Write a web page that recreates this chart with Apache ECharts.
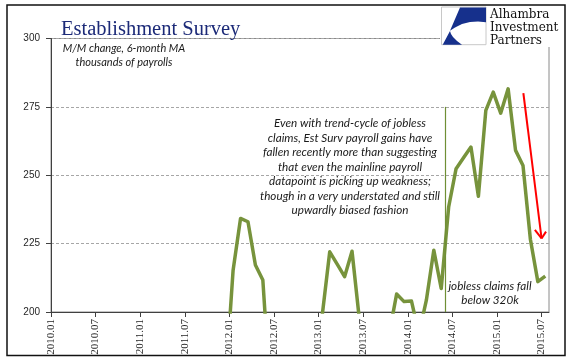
<!DOCTYPE html>
<html><head><meta charset="utf-8">
<script src="https://cdn.jsdelivr.net/npm/echarts@6/dist/echarts.min.js"></script>
<style>html,body{margin:0;padding:0;background:#fff}#c{width:577px;height:358px}</style>
</head><body><div id="c"></div>
<script>
// Monthly categories (2010.01 .. 2015.07)
const months = [
 '2010.01','2010.02','2010.03','2010.04','2010.05','2010.06','2010.07','2010.08','2010.09','2010.10','2010.11','2010.12',
 '2011.01','2011.02','2011.03','2011.04','2011.05','2011.06','2011.07','2011.08','2011.09','2011.10','2011.11','2011.12',
 '2012.01','2012.02','2012.03','2012.04','2012.05','2012.06','2012.07','2012.08','2012.09','2012.10','2012.11','2012.12',
 '2013.01','2013.02','2013.03','2013.04','2013.05','2013.06','2013.07','2013.08','2013.09','2013.10','2013.11','2013.12',
 '2014.01','2014.02','2014.03','2014.04','2014.05','2014.06','2014.07','2014.08','2014.09','2014.10','2014.11','2014.12',
 '2015.01','2015.02','2015.03','2015.04','2015.05','2015.06','2015.07'
];
// M/M change, 6-month MA, thousands (values below 200 are off-scale in the original)
const payrollMA = [
 -60, -20, 30, 80, 120, 110, 90, 60, 40, 20, 50, 90,
 110, 130, 150, 170, 160, 140, 120, 110, 130, 140, 150, 175,
 215.3, 234.2, 233.0, 217.2, 211.7, 170, 150, 140, 135, 150, 170, 185,
 199, 222.0, 217.5, 212.9, 222.2, 197, 180, 170, 175, 192,
 206.6, 203.8, 204.0, 192, 204.3, 222.6, 208.6, 238.4, 252.4, 256.4, 260.3, 242.3,
 273.7, 280.4, 272.7, 281.6, 259.1, 253.6, 226.5, 211.1, 213.1
];
const xTickLabels = ['2010.01','2010.07','2011.01','2011.07','2012.01','2012.07','2013.01','2013.07','2014.01','2014.07','2015.01','2015.07'];
const yTicks = [200, 225, 250, 275, 300];
// Annotation anchors (data units)
const eventMonth = '2014.06';          // jobless claims fall below 320k
const eventTop = 275;
const arrowFrom = [63.55, 280];
const arrowTo = [66.0, 226.9];
const arrowHeadL = [65.1, 230.0];
const arrowHeadR = [66.6, 229.4];

const tickPos = xTickLabels.map(l => months.indexOf(l));
const eventPos = months.indexOf(eventMonth);
const lineData = payrollMA.map((v, i) => [i + 0.5, v]);

const chart = echarts.init(document.getElementById('c'), null, {renderer: 'canvas'});
const red = {color: '#ff0000', width: 2, type: 'solid'};
chart.setOption({
  animation: false,
  backgroundColor: '#ffffff',
  grid: {left: 51, right: 28, top: 38.5, bottom: 46, show: true, borderColor: '#8a8a8a', borderWidth: 1},
  xAxis: {
    type: 'value', min: 0, max: 67, interval: 6,
    axisLine: {show: true, lineStyle: {color: '#404040', width: 1}},
    axisTick: {show: true, length: 5, inside: false, customValues: tickPos, lineStyle: {color: '#404040'}},
    axisLabel: {rotate: 90, margin: 7, customValues: tickPos, color: '#262626',
      fontFamily: '"Liberation Serif", serif', fontSize: 11,
      formatter: v => (months[Math.round(v)] !== undefined && tickPos.includes(Math.round(v))) ? months[Math.round(v)] : ''},
    splitLine: {show: false}
  },
  yAxis: {
    type: 'value', min: yTicks[0], max: yTicks[yTicks.length - 1], interval: 25,
    axisLine: {show: true, lineStyle: {color: '#404040', width: 1}},
    axisTick: {show: true, length: 5, lineStyle: {color: '#404040'}},
    axisLabel: {margin: 11, color: '#262626', fontFamily: '"Liberation Sans", Arial, sans-serif', fontSize: 10},
    splitLine: {show: true, lineStyle: {color: '#a6a6a6', width: 1, type: [3, 2]}}
  },
  series: [{
    type: 'line', data: lineData, symbol: 'none', clip: true, z: 3,
    lineStyle: {color: '#77933c', width: 3.5, join: 'round'},
    markLine: {
      silent: true, symbol: 'none', animation: false, label: {show: false},
      emphasis: {disabled: true},
      data: [
        [{coord: [eventPos, eventTop], lineStyle: {color: '#6f8f35', width: 1.2, type: 'solid'}}, {coord: [eventPos, yTicks[0]]}],
        [{coord: arrowFrom, lineStyle: red}, {coord: arrowTo}],
        [{coord: arrowHeadL, lineStyle: red}, {coord: arrowTo}],
        [{coord: arrowHeadR, lineStyle: red}, {coord: arrowTo}]
      ]
    }
  }],
  graphic: [
    {type: 'rect', z: 100, silent: true, shape: {x: 7, y: 5, width: 558, height: 350.5},
     style: {fill: 'none', stroke: '#111', lineWidth: 1.5}},
    {type: 'rect', z: 101, silent: true, shape: {x: 440, y: 7, width: 123, height: 40}, style: {fill: '#fff', stroke: 'none'}},
    {type: 'rect', z: 102, silent: true, shape: {x: 441.5, y: 7, width: 44.5, height: 37.7}, style: {fill: '#fff', stroke: '#c8c8c8', lineWidth: 1}},
    {type: 'polygon', z: 103, silent: true,
     shape: {points: [[460,7.5],[486,7.5],[486,22.3],[478,21.5],[470,22],[462,24],[455,27.5],[450,30.7]]},
     style: {fill: '#16308c'}},
    {type: 'polygon', z: 103, silent: true,
     shape: {points: [[450,31],[442.7,44.7],[462,44.7],[457,41],[453,37],[451,34]]},
     style: {fill: '#16308c'}},
    {type: 'text', z: 103, x: 490, y: 14.5, style: {text: 'Alhambra', font: '12px "DejaVu Serif"', fill: '#111', textVerticalAlign: 'middle'}},
    {type: 'text', z: 103, x: 490, y: 27.5, style: {text: 'Investment', font: '12px "DejaVu Serif"', fill: '#111', textVerticalAlign: 'middle'}},
    {type: 'text', z: 103, x: 490, y: 40.5, style: {text: 'Partners', font: '12px "DejaVu Serif"', fill: '#111', textVerticalAlign: 'middle'}},
    {type: 'text', z: 103, x: 61, y: 29.5, style: {text: 'Establishment Survey', font: '20.5px "Liberation Serif"', fill: '#1c2a78', textVerticalAlign: 'middle'}},
    {type: 'text', z: 103, x: 124, y: 48, style: {text: 'M/M change, 6-month MA', font: 'italic 11px Lato', fill: '#1a1a1a', textAlign: 'center', textVerticalAlign: 'middle'}},
    {type: 'text', z: 103, x: 124, y: 62, style: {text: 'thousands of payrolls', font: 'italic 11px Lato', fill: '#1a1a1a', textAlign: 'center', textVerticalAlign: 'middle'}},
    {type: 'text', z: 103, x: 350, y: 116, style: {
      text: 'Even with trend-cycle of jobless\nclaims, Est Surv payroll gains have\nfallen recently more than suggesting\nthat even the mainline payroll\ndatapoint is picking up weakness;\nthough in a very understated and still\nupwardly biased fashion',
      font: 'italic 11.7px Lato', lineHeight: 14.5, fill: '#1a1a1a', textAlign: 'center', textVerticalAlign: 'top'}},
    {type: 'text', z: 103, x: 490, y: 279, style: {
      text: 'jobless claims fall\nbelow 320k', font: 'italic 11.7px Lato', lineHeight: 14, fill: '#1a1a1a', textAlign: 'center', textVerticalAlign: 'top'}}
  ]
});
</script></body></html>
